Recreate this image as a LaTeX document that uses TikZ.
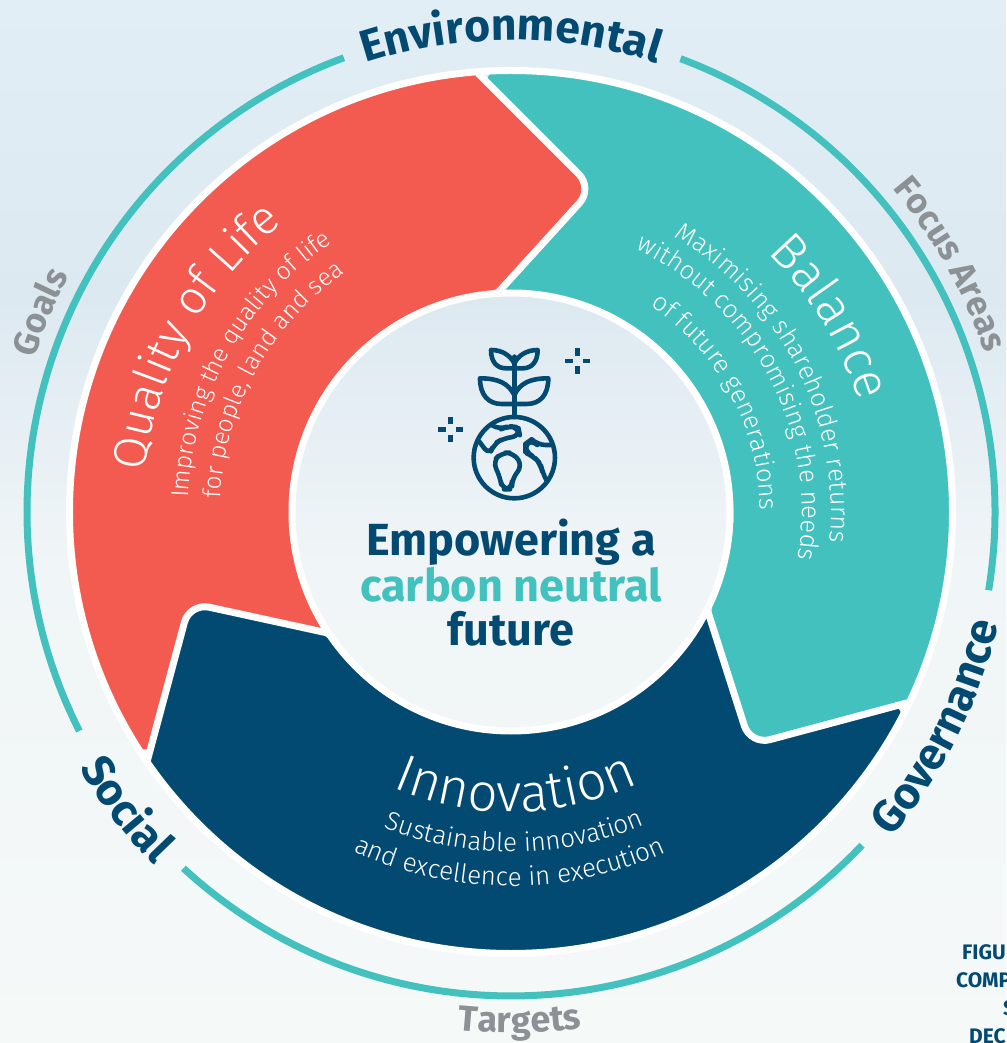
\documentclass[tikz,border=0pt]{standalone}
\usepackage{fontspec}
\usetikzlibrary{decorations.text}
\newfontfamily\heavyfont{Fira Sans Bold}
\newfontfamily\thinfont{Fira Sans Light}
\definecolor{ringteal}{RGB}{67,193,190}
\definecolor{lifecoral}{RGB}{244,91,80}
\definecolor{deepnavy}{RGB}{2,74,114}
\definecolor{softgrey}{RGB}{140,145,150}
\tikzset{
	curved/.style={decorate,decoration={text along path,text align=center,text={#1}}},
	ringline/.style={draw=ringteal,line width=7pt},
	gap/.style={draw=white,line width=7pt,rounded corners=20pt},
	icon/.style={draw=deepnavy,line width=4.6pt,line cap=round,line join=round},
	middle/.style={font=\heavyfont\fontsize{45}{45}\selectfont,inner sep=0pt},
	clipped/.style={font=\heavyfont\fontsize{21}{21}\selectfont,text=deepnavy,anchor=west,inner sep=0pt}
}
\newcommand{\bigtag}{\heavyfont\fontsize{44.5}{44.5}\selectfont\color{deepnavy}}
\newcommand{\greytag}[1]{\heavyfont\fontsize{#1}{#1}\selectfont\color{softgrey}}
\newcommand{\headtag}[1]{\thinfont\fontsize{#1}{#1}\selectfont\color{white}}
\newcommand{\subtag}[1]{\thinfont\fontsize{#1}{#1}\selectfont\color{white}}
\begin{document}
\begin{tikzpicture}[x=1pt,y=1pt]
	\useasboundingbox (-511,-531) rectangle (495,512);
	\clip (-511,-531) rectangle (495,512);
	% background
	\fill[top color={rgb,255:red,226;green,238;blue,245},bottom color={rgb,255:red,221;green,233;blue,241}] (-511,512) rectangle (495,212);
	\fill[top color={rgb,255:red,221;green,233;blue,241},bottom color={rgb,255:red,240;green,245;blue,247}] (-511,212.5) rectangle (495,-48);
	\fill[top color={rgb,255:red,240;green,245;blue,247},bottom color={rgb,255:red,245;green,249;blue,248}] (-511,-47.5) rectangle (495,-531);
	% three segments
	\foreach \tone/\turn in {lifecoral/0,ringteal/-120,deepnavy/120}{
		\fill[\tone,rotate=\turn] (94.3:440) [rounded corners=20pt] -- (75.8:334) -- (93.6:219) [sharp corners]
			arc[start angle=93.6,end angle=213.6,radius=219] [rounded corners=20pt] -- (195.8:334) -- (214.3:440) [sharp corners]
			arc[start angle=214.3,end angle=94.3,radius=440] -- cycle;
	}
	\foreach \turn in {0,-120,120}{
		\draw[gap,rotate=\turn] (94.3:440) -- (75.8:334) -- (93.6:219);
	}
	\draw[white,line width=7pt] (0,0) circle[radius=441.5];
	\draw[white,line width=7pt] (0,0) circle[radius=219];
	% outer arcs
	\draw[ringline] (110.2:484) arc[start angle=110.2,end angle=206.9,radius=484];
	\draw[ringline] (227.4:484) arc[start angle=227.4,end angle=316.5,radius=484];
	\draw[ringline] (69.5:484) arc[start angle=69.5,end angle=-9.3,radius=484];
	% ring labels
	\path[curved={|\bigtag|Environmental}] (130:472) arc[start angle=130,end angle=50,radius=472];
	\path[curved={|\bigtag|Social}] (180:502) arc[start angle=180,end angle=255.4,radius=502];
	\path[curved={|\bigtag|Governance}] (-70:500) arc[start angle=-70,end angle=16.6,radius=500];
	\path[curved={|\greytag{35}|Goals}] (195:501) arc[start angle=195,end angle=119,radius=501];
	\path[curved={|\greytag{35}|Focus Areas}] (70:500) arc[start angle=70,end angle=-11.2,radius=500];
	\path[curved={|\greytag{36}|Targets}] (241:521) arc[start angle=241,end angle=301,radius=521];
	% segment labels
	\path[curved={|\headtag{47}|Quality of Life}] (206:368) arc[start angle=206,end angle=96,radius=368];
	\path[curved={|\subtag{24.5}|Improving the quality of life}] (205.5:323) arc[start angle=205.5,end angle=95.5,radius=323];
	\path[curved={|\subtag{24.5}|for people, land and sea}] (206:291) arc[start angle=206,end angle=96,radius=291];
	\path[curved={|\headtag{50}|Balance}] (85:365) arc[start angle=85,end angle=-22.2,radius=365];
	\path[curved={|\subtag{25.5}|Maximising shareholder returns}] (85:320) arc[start angle=85,end angle=-31,radius=320];
	\path[curved={|\subtag{25.5}|without compromising the needs}] (87.6:291) arc[start angle=87.6,end angle=-32.4,radius=291];
	\path[curved={|\subtag{25.5}|of future generations}] (88.2:249) arc[start angle=88.2,end angle=-31.8,radius=249];
	\path[curved={|\headtag{53}|Innovation}] (216:300) arc[start angle=216,end angle=326,radius=300];
	\path[curved={|\subtag{26}|Sustainable innovation}] (215.6:340) arc[start angle=215.6,end angle=325.6,radius=340];
	\path[curved={|\subtag{26}|and excellence in execution}] (214.8:374) arc[start angle=214.8,end angle=324.8,radius=374];
	% middle text
	\node[middle,text=deepnavy] (empower) at (0,-30) {Empowering a};
	\node[middle,text=ringteal] (neutral) at (0,-73) {carbon neutral};
	\node[middle,text=deepnavy] (future) at (0,-117) {future};
	% plant and globe, in zoomed pixel units
	\begin{scope}[shift={(-91,182)},x=0.3333pt,y=-0.3333pt]
		\draw[icon] (283,383) circle[radius=122];
		\draw[icon] (283,261) -- (283,80);
		\draw[icon] (283,195) .. controls (265,160) and (235,145) .. (180,145) .. controls (180,195) and (205,222) .. (245,222) -- (320,222) .. controls (360,222) and (385,195) .. (385,145) .. controls (330,145) and (300,160) .. (283,195);
		\draw[icon] (283,100) .. controls (270,75) and (245,60) .. (213,60) .. controls (213,95) and (230,115) .. (258,115) -- (308,115) .. controls (336,115) and (353,95) .. (353,60) .. controls (321,60) and (296,75) .. (283,100);
		\draw[icon,rounded corners=8pt] (178,335) -- (208,375) -- (222,342) -- (250,325) -- (300,318) -- (295,292) -- (265,288) -- (238,300) -- (215,285);
		\draw[icon,rounded corners=8pt] (245,368) -- (280,368) -- (308,408) -- (276,445) -- (276,478) -- (246,478) -- (240,440) -- (218,395) -- cycle;
		\draw[icon,rounded corners=8pt] (392,345) -- (352,345) -- (335,328) -- (316,342) -- (316,368) -- (342,380) -- (362,402) -- (368,430) -- (380,452);
		\foreach \spx/\spy in {473/93,92/298}{
			\draw[deepnavy,line width=4.7pt] (\spx,\spy-38) -- (\spx,\spy-16) (\spx,\spy+16) -- (\spx,\spy+38) (\spx-38,\spy) -- (\spx-15,\spy) (\spx+15,\spy) -- (\spx+38,\spy);
		}
	\end{scope}
	% caption cut off by the page edge
	\node[clipped] (figu) at (451,-440) {FIGU};
	\node[clipped] (comp) at (445,-468) {COMP};
	\node[clipped] (sline) at (492,-496) {S};
	\node[clipped] (decl) at (458,-524) {DEC};
\end{tikzpicture}
\end{document}
